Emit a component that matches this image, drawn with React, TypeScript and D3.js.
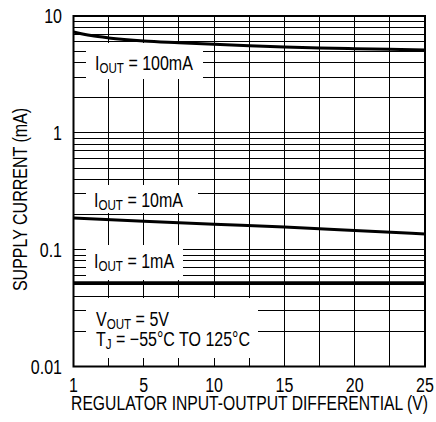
import React from "react";
import * as d3 from "d3";

// x axis is drawn 0..25 in equal steps, first tick printed as "1"
const xTickValues = [0, 5, 10, 15, 20, 25];
const xTickLabels = ["1", "5", "10", "15", "20", "25"];
const xGridValues = [0, 2.5, 5, 7.5, 10, 12.5, 15, 17.5, 20, 22.5, 25];

const yTickValues = [0.01, 0.1, 1, 10];
const yTickLabels = ["0.01", "0.1", "1", "10"];

const iout100 = [
  { x: 0, y: 7.3 },
  { x: 1.25, y: 6.8 },
  { x: 2.5, y: 6.49 },
  { x: 5, y: 6.11 },
  { x: 7.5, y: 5.91 },
  { x: 10, y: 5.73 },
  { x: 12.5, y: 5.57 },
  { x: 15, y: 5.43 },
  { x: 17.5, y: 5.33 },
  { x: 20, y: 5.25 },
  { x: 22.5, y: 5.19 },
  { x: 25, y: 5.12 },
];
const iout10 = [
  { x: 0, y: 0.187 },
  { x: 5, y: 0.175 },
  { x: 10, y: 0.165 },
  { x: 15, y: 0.156 },
  { x: 20, y: 0.146 },
  { x: 25, y: 0.136 },
];
const iout1 = [
  { x: 0, y: 0.052 },
  { x: 25, y: 0.052 },
];

const width = 436;
const height = 422;
const margin = { left: 73.5, right: 11, top: 16, bottom: 55.5 };
const font = "'Liberation Sans', Arial, sans-serif";
const squeeze = 0.8; // fake a condensed face

interface TxtProps {
  x: number;
  y: number;
  anchor?: "start" | "middle" | "end";
  rotate?: number;
  sx?: number;
  children: React.ReactNode;
}

const Txt = ({ x, y, anchor = "start", rotate = 0, sx = squeeze, children }: TxtProps) => (
  <text
    transform={`translate(${x},${y}) rotate(${rotate}) scale(${sx},1)`}
    textAnchor={anchor}
  >
    {children}
  </text>
);

const Sub = ({ main, sub, rest }: { main: string; sub: string; rest: string }) => (
  <>
    {main}
    <tspan fontSize={14.5} dy={3}>
      {sub}
    </tspan>
    <tspan dy={-3}>{rest}</tspan>
  </>
);

const App = () => {
  const x = d3.scaleLinear().domain([0, 25]).range([margin.left, width - margin.right]);
  const y = d3.scaleLog().domain([0.01, 10]).range([height - margin.bottom, margin.top]);

  const minor: number[] = [];
  [0.01, 0.1, 1].forEach((dec) => {
    for (let k = 1; k <= 9; k++) minor.push(dec * k);
  });
  minor.push(10);

  const line = d3
    .line<{ x: number; y: number }>()
    .x((d) => x(d.x))
    .y((d) => y(d.y))
    .curve(d3.curveMonotoneX);

  // white patches behind the in-plot notes
  const boxes = [
    { x: 86, y: 43, w: 117, h: 36 },
    { x: 86, y: 185, w: 112, h: 28 },
    { x: 86, y: 245, w: 97, h: 35 },
    { x: 86, y: 298, w: 172, h: 60 },
  ];

  const x0 = margin.left;
  const x1 = width - margin.right;
  const y0 = margin.top;
  const y1 = height - margin.bottom;

  return (
    <div style={{ position: "fixed", left: 0, top: 0 }}>
      <svg width={width} height={height} style={{ display: "block", background: "#fff" }} fontFamily={font}>
        <g shapeRendering="crispEdges" stroke="#000" strokeWidth={1}>
          {xGridValues.map((v) => (
            <line key={"vx" + v} x1={x(v)} x2={x(v)} y1={y0} y2={y1} />
          ))}
          {minor.map((v, i) => (
            <line key={"hy" + i} x1={x0} x2={x1} y1={y(v)} y2={y(v)} />
          ))}
        </g>
        {boxes.map((b, i) => (
          <rect key={i} x={b.x} y={b.y} width={b.w} height={b.h} fill="#fff" />
        ))}
        <g fill="none" stroke="#000" strokeWidth={3}>
          <path d={line(iout100) || ""} />
          <path d={line(iout10) || ""} />
          <path d={line(iout1) || ""} />
        </g>
        <rect x={x0} y={y0} width={x1 - x0} height={y1 - y0} fill="none" stroke="#000" strokeWidth={2} />

        <g fontSize={20} fill="#000">
          <Txt x={95} y={69.5}>
            <Sub main="I" sub="OUT" rest=" = 100mA" />
          </Txt>
          <Txt x={94} y={206.5}>
            <Sub main="I" sub="OUT" rest=" = 10mA" />
          </Txt>
          <Txt x={94} y={267.5}>
            <Sub main="I" sub="OUT" rest=" = 1mA" />
          </Txt>
          <Txt x={96} y={326}>
            <Sub main="V" sub="OUT" rest=" = 5V" />
          </Txt>
          <Txt x={96} y={346}>
            <Sub main="T" sub="J" rest=" = −55°C TO 125°C" />
          </Txt>

          {yTickValues.map((v, i) => (
            <Txt key={v} x={62} y={y(v) + 7} anchor="end">
              {yTickLabels[i]}
            </Txt>
          ))}
          {xTickValues.map((v, i) => (
            <Txt key={v} x={x(v)} y={392} anchor="middle">
              {xTickLabels[i]}
            </Txt>
          ))}
          <Txt x={249.5} y={410} anchor="middle" sx={0.785}>
            REGULATOR INPUT-OUTPUT DIFFERENTIAL (V)
          </Txt>
          <Txt x={27} y={199.5} anchor="middle" rotate={-90}>
            SUPPLY CURRENT (mA)
          </Txt>
        </g>
      </svg>
    </div>
  );
};

export default App;
